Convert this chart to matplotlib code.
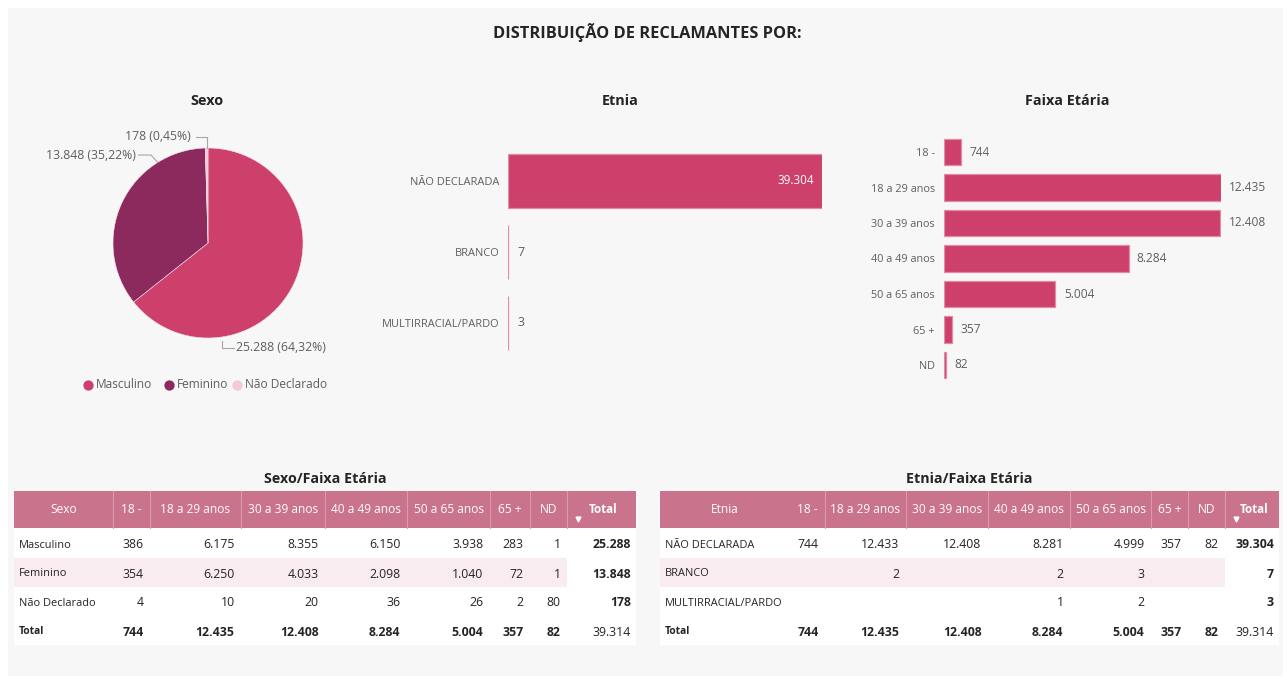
import matplotlib
matplotlib.use("Agg")
import matplotlib.pyplot as plt
from matplotlib.patches import Rectangle

plt.rcParams['font.family'] = ['Open Sans', 'DejaVu Sans']

# ---------------- data ----------------
sexo_labels = ['Masculino', 'Feminino', 'Não Declarado']
sexo_vals = [25288, 13848, 178]

etnia_labels = ['NÃO DECLARADA', 'BRANCO', 'MULTIRRACIAL/PARDO']
etnia_vals = [39304, 7, 3]

faixa_labels = ['18 -', '18 a 29 anos', '30 a 39 anos', '40 a 49 anos',
                '50 a 65 anos', '65 +', 'ND']
faixa_vals = [744, 12435, 12408, 8284, 5004, 357, 82]

sf_rows = ['Masculino', 'Feminino', 'Não Declarado']
sf_masc = [386, 6175, 8355, 6150, 3938, 283, 1]
sf_fem = [354, 6250, 4033, 2098, 1040, 72, 1]
sf_nd = [4, 10, 20, 36, 26, 2, 80]
sf_row_totals = [25288, 13848, 178]

ef_rows = ['NÃO DECLARADA', 'BRANCO', 'MULTIRRACIAL/PARDO']
ef_nd = [744, 12433, 12408, 8281, 4999, 357, 82]
ef_branco = [None, 2, None, 2, 3, None, None]
ef_multi = [None, None, None, 1, 2, None, None]
ef_row_totals = [39304, 7, 3]

col_totals = [744, 12435, 12408, 8284, 5004, 357, 82]
grand_total = 39314

# ---------------- style ----------------
W, H = 1287, 680
C_BAR = '#CC406B'
C_BAR_EDGE = '#E38AA4'
C_FEM = '#8C2A5E'
C_ND = '#F2C9D7'
C_HEAD = '#C9738C'
C_HEAD_SEP = '#DB9AAE'
C_BAND = '#F8ECF0'
C_TXT = '#252423'
C_LBL = '#605E5C'
BG = '#F7F7F7'


def fmt(v):
    return f"{v:,}".replace(',', '.')


fig = plt.figure(figsize=(W / 100, H / 100), dpi=100, facecolor='white')

# overlay axes in pixel coords
ov = fig.add_axes([0, 0, 1, 1])
ov.set_xlim(0, W)
ov.set_ylim(H, 0)
ov.axis('off')
ov.add_patch(Rectangle((8, 8), 1275, 668, facecolor=BG, edgecolor='none', zorder=0))


def px_axes(x0, y0, x1, y1):
    """axes from pixel box (top-left origin)"""
    return fig.add_axes([x0 / W, 1 - y1 / H, (x1 - x0) / W, (y1 - y0) / H])


# titles
ov.text(647, 33, 'DISTRIBUIÇÃO DE RECLAMANTES POR:', ha='center', va='center',
        fontsize=11.8, fontweight='bold', color=C_TXT)
for x, t in [(207, 'Sexo'), (620, 'Etnia'), (1067, 'Faixa Etária')]:
    ov.text(x, 101, t, ha='center', va='center', fontsize=10.4, fontweight='bold', color=C_TXT)
for x, t in [(325, 'Sexo/Faixa Etária'), (969, 'Etnia/Faixa Etária')]:
    ov.text(x, 479, t, ha='center', va='center', fontsize=10.3, fontweight='bold', color=C_TXT)

# ---------------- pie ----------------
cx, cy, r = 208, 243, 95
pax = px_axes(cx - r, cy - r, cx + r, cy + r)
pax.set_facecolor('none')
pax.pie(sexo_vals, colors=[C_BAR, C_FEM, C_ND], startangle=90, counterclock=False,
        radius=1, wedgeprops=dict(edgecolor='#F3E3E8', linewidth=0.4))
pax.set_xlim(-1, 1)
pax.set_ylim(-1, 1)
pax.set_aspect('auto')
pax.axis('off')

tot = sum(sexo_vals)
pct = [f"{fmt(v)} ({(f'{v / tot * 100:.2f}').replace('.', ',')}%)" for v in sexo_vals]
lc = '#A6A6A6'
# Masculino label (bottom right)
pax.plot([0.147, 0.147, 0.27], [-1.03, -1.105, -1.105], color=lc, lw=0.8, clip_on=False)
pax.text(0.30, -1.105, pct[0], ha='left', va='center', fontsize=8.8, color=C_LBL, clip_on=False)
# Feminino label (top left)
pax.plot([-0.53, -0.60, -0.73], [0.85, 0.926, 0.926], color=lc, lw=0.8, clip_on=False)
pax.text(-0.76, 0.926, pct[1], ha='right', va='center', fontsize=8.8, color=C_LBL, clip_on=False)
# Não Declarado label (top)
pax.plot([-0.012, -0.012, -0.13], [1.0, 1.116, 1.116], color=lc, lw=0.8, clip_on=False)
pax.text(-0.18, 1.116, pct[2], ha='right', va='center', fontsize=8.8, color=C_LBL, clip_on=False)

# legend
leg_x = [88, 169, 237]
for x, lab, col in zip(leg_x, sexo_labels, [C_BAR, C_FEM, C_ND]):
    ov.scatter([x], [385], s=55, color=col, zorder=3, linewidths=0)
    ov.text(x + 8, 385, lab, ha='left', va='center', fontsize=8.6, color=C_LBL)

# ---------------- Etnia bars ----------------
eax = px_axes(508, 145.5, 822, 358.5)
eax.set_facecolor('none')
ey = list(range(len(etnia_vals)))
eax.barh(ey, etnia_vals, height=0.76, color=C_BAR, edgecolor=C_BAR_EDGE, linewidth=0.9)
eax.set_xlim(0, max(etnia_vals))
eax.set_ylim(len(etnia_vals) - 0.5, -0.5)
for s in eax.spines.values():
    s.set_visible(False)
eax.set_xticks([])
eax.set_yticks(ey)
eax.set_yticklabels(etnia_labels, fontsize=7.9, color=C_LBL)
eax.tick_params(axis='y', length=0, pad=6)
for yy, v in zip(ey, etnia_vals):
    if v > 0.8 * max(etnia_vals):
        eax.annotate(fmt(v), (v, yy), xytext=(-6, 0), textcoords='offset points',
                     ha='right', va='center', fontsize=8.5, color='white')
    else:
        eax.annotate(fmt(v), (v, yy), xytext=(7, 0), textcoords='offset points',
                     ha='left', va='center', fontsize=9, color=C_LBL)

# ---------------- Faixa bars ----------------
fax = px_axes(944, 134.25, 1221, 382.75)
fax.set_facecolor('none')
fy = list(range(len(faixa_vals)))
fax.barh(fy, faixa_vals, height=0.76, color=C_BAR, edgecolor=C_BAR_EDGE, linewidth=0.9)
fax.set_xlim(0, max(faixa_vals))
fax.set_ylim(len(faixa_vals) - 0.5, -0.5)
for s in fax.spines.values():
    s.set_visible(False)
fax.set_xticks([])
fax.set_yticks(fy)
fax.set_yticklabels(faixa_labels, fontsize=7.8, color=C_LBL)
fax.tick_params(axis='y', length=0, pad=6.5)
for yy, v in zip(fy, faixa_vals):
    fax.annotate(fmt(v), (v, yy), xytext=(6, 0), textcoords='offset points',
                 ha='left', va='center', fontsize=8.6, color=C_LBL)


# ---------------- tables ----------------
def draw_table(edges, header, rows, data, row_totals, band_row, seps, triangle_x):
    x0, x1 = edges[0], edges[-1]
    ht, hb = 491, 528
    row_h = 29
    body_bottom = hb + row_h * (len(rows) + 1) + 1
    ov.add_patch(Rectangle((x0, hb), x1 - x0, body_bottom - hb, facecolor='white',
                           edgecolor='none', zorder=1))
    ov.add_patch(Rectangle((x0, ht), x1 - x0, hb - ht, facecolor=C_HEAD,
                           edgecolor='none', zorder=1))
    for sx in seps:
        ov.plot([sx, sx], [ht, hb], color=C_HEAD_SEP, lw=0.8, zorder=2)
    for i, h in enumerate(header):
        xc = (edges[i] + edges[i + 1]) / 2
        bold = (h == 'Total')
        ov.text(xc + (2 if bold else 0), (ht + hb) / 2, h, ha='center', va='center',
                fontsize=8.4 if bold else 8.6, color='white',
                fontweight='bold' if bold else 'normal', zorder=3)
    ov.plot([triangle_x], [(ht + hb) / 2 + 9], marker='v', color='white', markersize=3.5,
            zorder=3)
    # band
    yb = hb + 1 + row_h * band_row
    ov.add_patch(Rectangle((x0, yb), edges[-2] - x0, row_h, facecolor=C_BAND,
                           edgecolor='none', zorder=1.5))
    pad = 6.5
    dy = 1.5
    for ri, (lab, vals, t) in enumerate(zip(rows, data, row_totals)):
        yc = hb + 1 + row_h * ri + row_h / 2 + dy
        ov.text(x0 + 5, yc, lab, ha='left', va='center', fontsize=7.9, color=C_TXT, zorder=3)
        for ci, v in enumerate(vals):
            if v is None:
                continue
            ov.text(edges[ci + 2] - pad, yc, fmt(v), ha='right', va='center',
                    fontsize=8.8, color=C_TXT, zorder=3)
        ov.text(x1 - 5, yc, fmt(t), ha='right', va='center', fontsize=8.8,
                color=C_TXT, fontweight='bold', zorder=3)
    yc = hb + 1 + row_h * len(rows) + row_h / 2 + dy
    ov.text(x0 + 5, yc - 1, 'Total', ha='left', va='center', fontsize=7.4, color=C_TXT,
            fontweight='bold', zorder=3)
    for ci, v in enumerate(col_totals):
        ov.text(edges[ci + 2] - pad, yc, fmt(v), ha='right', va='center',
                fontsize=8.8, color=C_TXT, fontweight='bold', zorder=3)
    ov.text(x1 - 5, yc, fmt(grand_total), ha='right', va='center', fontsize=8.8,
            color=C_TXT, zorder=3)


hdr_cols = faixa_labels + ['Total']
left_edges = [14, 113, 150, 241, 325, 407, 490, 530, 567, 636]
draw_table(left_edges, ['Sexo'] + hdr_cols, sf_rows, [sf_masc, sf_fem, sf_nd],
           sf_row_totals, 1, left_edges[1:-1], 578)

right_edges = [660, 790, 825, 906, 988, 1070, 1151, 1188, 1225, 1279]
draw_table(right_edges, ['Etnia'] + hdr_cols, ef_rows, [ef_nd, ef_branco, ef_multi],
           ef_row_totals, 1, right_edges[2:-1], 1236)

fig.savefig('out.png', dpi=100, facecolor=fig.get_facecolor())
